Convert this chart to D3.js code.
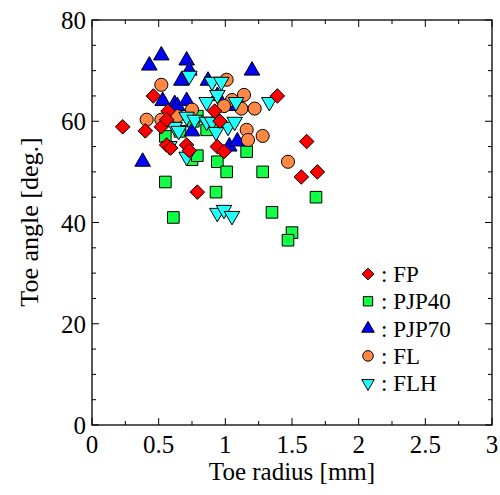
<!DOCTYPE html>
<html>
<head>
<meta charset="utf-8">
<script src="https://cdn.jsdelivr.net/npm/d3@7"></script>
<style>
  body { margin: 0; background: #fff; }
  text { font-family: "Liberation Serif", "Times New Roman", Times, serif; fill: #000; }
</style>
</head>
<body>
<script>
// data: [toe radius mm, toe angle deg]
var fp = [[0.23,58.9],[0.40,58.1],[0.46,65],[0.52,58.9],[0.57,62],[0.56,60.3],[0.56,55.3],[0.59,54.7],
  [0.71,55.3],[0.73,54.2],[0.79,46],[0.92,62],[0.96,60],[0.94,55],[0.99,54],[1.39,65],[1.61,56],[1.57,49],[1.69,50]];
var pjp40 = [[0.55,57],[0.66,58],[0.76,60],[0.79,61],[0.86,58.3],[0.94,59.7],[0.55,48],[0.61,41],[0.75,52.4],
  [0.79,53.2],[0.93,46],[0.94,52],[1.01,50],[1.16,54],[1.28,50],[1.35,42],[1.50,38],[1.47,36.5],[1.68,45]];
var pjp70 = [[0.52,73],[0.43,71],[0.71,72],[0.73,70],[0.67,68],[0.53,64],[0.62,63.4],[0.64,63],[0.71,64],
  [0.87,68],[1.20,70],[1.06,63],[0.75,58],[0.38,52],[1.03,55],[1.09,56],[0.94,65]];
var fl = [[0.52,67.2],[0.41,60.3],[0.52,60.3],[0.64,61],[0.75,62.3],[1.01,68.2],[1.14,65.2],[1.05,64.2],
  [0.99,63],[1.12,62.5],[1.22,62.5],[1.16,58.3],[1.28,57.1],[1.17,56.3],[1.47,52]];
var flh = [[0.73,69],[0.90,67.8],[0.97,67.8],[0.94,65.2],[0.86,63.8],[1.08,63.8],[1.33,63.8],[0.71,60.9],
  [0.77,60.3],[0.86,59.9],[0.90,59.9],[1.02,58.9],[0.93,57.9],[1.07,59.9],[0.62,58.9],[0.65,58.1],
  [0.58,55.1],[0.71,53],[0.94,41.9],[0.99,42.5],[1.05,41.3]];
var seriesNames = ["FP","PJP40","PJP70","FL","FLH"];
var xTicks = [0,0.5,1,1.5,2,2.5,3];
var yTicks = [0,20,40,60,80];

var W = 500, H = 495;
var svg = d3.select("body").append("svg").attr("width", W).attr("height", H);
var x = d3.scaleLinear().domain([0,3]).range([92,492]);
var y = d3.scaleLinear().domain([0,80]).range([425,20]);

// symbol styles
var styles = {
  FP:    {sym: d3.symbolDiamond2, size: 135, fill: "#ff0000"},
  PJP40: {sym: d3.symbolSquare, size: 135, fill: "#11ff44"},
  PJP70: {sym: d3.symbolTriangle, size: 105, fill: "#0000ff"},
  FL:    {sym: d3.symbolCircle, size: 135, fill: "#ff8844"},
  FLH:   {sym: d3.symbolTriangle, size: 105, fill: "#22ffff", flip: true}
};

function drawSeries(name, data) {
  var s = styles[name];
  var path = d3.symbol().type(s.sym).size(s.size);
  svg.append("g").selectAll("path").data(data).enter().append("path")
    .attr("d", path)
    .attr("transform", function(d) {
      return "translate(" + x(d[0]) + "," + y(d[1]) + ")" + (s.flip ? " rotate(180)" : "");
    })
    .attr("fill", s.fill)
    .attr("stroke", "#000")
    .attr("stroke-width", 1);
}
drawSeries("PJP40", pjp40);
drawSeries("PJP70", pjp70);
drawSeries("FL", fl);
drawSeries("FLH", flh);
drawSeries("FP", fp);

// frame
svg.append("rect").attr("x", 92).attr("y", 20).attr("width", 400).attr("height", 405)
  .attr("fill", "none").attr("stroke", "#000").attr("stroke-width", 1.3);

// ticks inward on all four sides
var xMinor = d3.range(0, 3.01, 0.25), yMinor = d3.range(0, 80.1, 5);
var tk = svg.append("g").attr("stroke", "#000").attr("stroke-width", 1);
xMinor.forEach(function(v) {
  var major = xTicks.indexOf(v) >= 0, L = major ? 7 : 4;
  tk.append("line").attr("x1", x(v)).attr("x2", x(v)).attr("y1", 425).attr("y2", 425 - L);
  tk.append("line").attr("x1", x(v)).attr("x2", x(v)).attr("y1", 20).attr("y2", 20 + L);
});
yMinor.forEach(function(v) {
  var major = yTicks.indexOf(v) >= 0, L = major ? 7 : 4;
  tk.append("line").attr("x1", 92).attr("x2", 92 + L).attr("y1", y(v)).attr("y2", y(v));
  tk.append("line").attr("x1", 492).attr("x2", 492 - L).attr("y1", y(v)).attr("y2", y(v));
});

// tick labels
svg.append("g").selectAll("text").data(xTicks).enter().append("text")
  .attr("x", function(d) { return x(d); }).attr("y", 453)
  .attr("text-anchor", "middle").attr("font-size", 25)
  .text(function(d) { return d; });
svg.append("g").selectAll("text").data(yTicks).enter().append("text")
  .attr("x", 86).attr("y", function(d) { return y(d) + 9; })
  .attr("text-anchor", "end").attr("font-size", 25)
  .text(function(d) { return d; });

// axis titles
svg.append("text").attr("x", 292).attr("y", 480).attr("text-anchor", "middle")
  .attr("font-size", 25).text("Toe radius [mm]");
svg.append("text").attr("transform", "translate(38,222) rotate(-90)")
  .attr("text-anchor", "middle").attr("font-size", 26).text("Toe angle [deg.]");

// legend
var leg = svg.append("g");
seriesNames.forEach(function(name, i) {
  var s = styles[name], ly = 274 + i * 27.3;
  leg.append("path")
    .attr("d", d3.symbol().type(s.sym).size(s.size * 0.65))
    .attr("transform", "translate(368," + ly + ")" + (s.flip ? " rotate(180)" : ""))
    .attr("fill", s.fill).attr("stroke", "#000").attr("stroke-width", 1);
  leg.append("text").attr("x", 381).attr("y", ly + 8).attr("font-size", 23).text(": " + name);
});
</script>
</body>
</html>
